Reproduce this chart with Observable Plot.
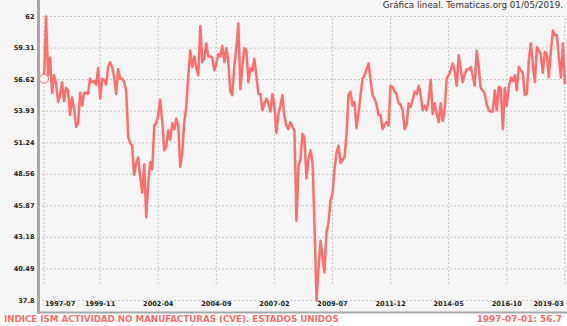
<!DOCTYPE html>
<html>
<head>
<meta charset="utf-8">
<script src="https://cdn.jsdelivr.net/npm/d3@7"></script>
<script src="https://cdn.jsdelivr.net/npm/@observablehq/plot@0.6"></script>
<style>
  html, body { margin: 0; padding: 0; background: #ffffff; }
  #wrap { position: relative; width: 567px; height: 326px; overflow: hidden; background: #ffffff; font-family: "DejaVu Sans", sans-serif; }
  #panel { position: absolute; left: 0; top: 0; width: 567px; height: 313px; background: #f5f5f5; }
  #chart { position: absolute; left: 0; top: 0; }
  #title { position: absolute; right: 4px; top: 0px; font-size: 8.75px; color: #333; white-space: nowrap; }
  #capL { position: absolute; left: 4px; top: 314px; font-size: 8.7px; font-weight: bold; color: #ff6e6e; white-space: nowrap; }
  #capR { position: absolute; right: 5px; top: 314px; font-size: 8.9px; font-weight: bold; color: #ff6e6e; white-space: nowrap; }
</style>
</head>
<body>
<div id="wrap">
  <div id="panel"></div>
  <div id="chart"></div>
  <div id="title"></div>
  <div id="capL"></div>
  <div id="capR"></div>
</div>
<script>
// ---- data ----
const titleText = "Gráfica lineal. Tematicas.org 01/05/2019.";
const seriesName = "INDICE ISM ACTIVIDAD NO MANUFACTURAS (CVE). ESTADOS UNIDOS";
const startMonth = "1997-07";
const values = [
  56.7, 62.0, 57.0, 58.5, 55.5, 57.0, 56.3, 54.7, 55.3, 56.4, 54.8, 55.9,
  55.7, 53.6, 55.1, 54.1, 52.6, 52.9, 55.5, 54.4, 55.5, 55.5, 55.4, 56.7,
  56.4, 56.5, 56.2, 57.6, 55.0, 56.7, 56.6, 56.2, 57.7, 58.1, 57.7, 56.8,
  55.4, 57.5, 56.7, 56.7, 56.4, 55.7, 51.7, 51.2, 51.0, 48.5, 49.5, 50.0,
  48.4, 47.0, 49.4, 44.9, 47.8, 49.6, 49.0, 52.7, 52.9, 53.6, 54.9, 53.1,
  50.6, 50.9, 52.3, 51.5, 52.9, 52.4, 53.3, 52.7, 49.2, 50.3, 52.9, 54.3,
  56.8, 59.1, 57.7, 58.6, 57.6, 57.0, 61.2, 58.1, 58.4, 59.7, 58.6, 58.6,
  58.5, 57.4, 58.0, 58.8, 58.6, 59.5, 58.1, 59.3, 58.1, 55.6, 55.3, 57.8,
  59.3, 61.4, 55.8, 57.8, 59.3, 59.1, 56.4, 57.6, 57.4, 58.4, 57.0, 55.4,
  55.4, 54.0, 54.6, 55.0, 54.6, 53.9, 55.4, 54.3, 52.1, 53.6, 54.4, 55.3,
  53.5, 52.7, 52.4, 53.0, 52.6, 52.3, 44.6, 49.3, 49.8, 52.0, 51.7, 48.2,
  49.8, 50.6, 49.6, 44.2, 37.8, 40.5, 42.9, 41.4, 40.2, 43.6, 44.4, 46.3,
  46.9, 49.0, 50.4, 51.0, 49.5, 49.8, 50.0, 52.1, 55.3, 55.6, 54.4, 54.7,
  52.5, 53.8, 55.3, 56.7, 57.0, 57.5, 58.0, 56.5, 55.3, 55.0, 54.5, 53.6,
  53.6, 52.4, 52.8, 53.0, 52.7, 56.1, 56.0, 55.6, 55.4, 54.6, 54.5, 54.0,
  52.4, 52.8, 54.6, 54.3, 54.9, 55.6, 55.4, 56.1, 55.4, 54.0, 54.4, 54.0,
  54.9, 56.6, 53.7, 54.6, 53.7, 53.0, 54.6, 53.1, 54.0, 56.7, 57.0, 57.4,
  58.0, 57.4, 56.1, 58.7, 57.5, 56.4, 57.1, 57.5, 57.5, 57.7, 57.0, 56.1,
  59.1, 57.7, 55.9, 55.7, 55.4, 54.5, 54.0, 53.9, 53.9, 55.7, 54.0, 56.0,
  55.9, 52.4, 55.9, 54.4, 56.0, 56.8, 56.5, 57.0, 55.7, 57.7, 57.4, 57.2,
  55.3, 55.4, 58.3, 59.7, 57.9, 56.4, 59.4, 59.1, 58.8, 57.2, 59.0, 58.8,
  56.8, 59.0, 60.8, 60.4, 60.4, 58.5, 56.8, 59.7, 56.3
];
const yTicks = [37.8, 40.49, 43.18, 45.87, 48.56, 51.24, 53.93, 56.62, 59.31, 62];
const xTickLabels = ["1997-07", "1999-11", "2002-04", "2004-09", "2007-02", "2009-07", "2011-12", "2014-05", "2016-10", "2019-03"];

// ---- build ----
const parseMonth = d3.utcParse("%Y-%m");
const start = parseMonth(startMonth);
const data = values.map((v, i) => ({ date: d3.utcMonth.offset(start, i), value: v }));
const xTicks = xTickLabels.map(parseMonth);
const first = data[0];

document.getElementById("title").textContent = titleText;
document.getElementById("capL").textContent = seriesName;
document.getElementById("capR").textContent = d3.utcFormat("%Y-%m-%d")(first.date) + ": " + first.value;

const red = "#ff6e6e";
const gridStyle = { stroke: "#c4c4c4", strokeOpacity: 1, strokeWidth: 1, strokeDasharray: "2,2" };
const labelFont = { fontFamily: "DejaVu Sans", fontSize: 6.6, fontWeight: "bold", fill: "#222" };

const chart = Plot.plot({
  width: 567,
  height: 326,
  marginTop: 0,
  marginLeft: 38,
  marginRight: 0,
  marginBottom: 14,
  style: { background: "transparent", fontFamily: "DejaVu Sans", overflow: "visible" },
  x: { type: "utc", domain: [xTicks[0], xTicks[xTicks.length - 1]], range: [43.5, 564.3], axis: null },
  y: { domain: [37.8, 62], range: [300, 16], axis: null, label: null },
  marks: [
    Plot.ruleY(yTicks, { ...gridStyle }),
    Plot.ruleX(xTicks, { y1: 37.8, y2: 62, insetTop: -16, insetBottom: -2, ...gridStyle }),
    Plot.frame({ anchor: "left", stroke: "#a8a8a8", strokeWidth: 3 }),
    Plot.frame({ anchor: "bottom", stroke: "#a8a8a8", strokeWidth: 2 }),
    Plot.axisY(yTicks, { tickSize: 0, tickPadding: 4, label: null, tickFormat: d => String(d), ...labelFont }),
    Plot.text(xTicks.slice(1, -1), { x: d => d, frameAnchor: "bottom", dy: -6.5, text: d => d3.utcFormat("%Y-%m")(d), textAnchor: "middle", ...labelFont }),
    Plot.text([xTicks[0]], { x: d => d, frameAnchor: "bottom", dy: -6.5, text: d => d3.utcFormat("%Y-%m")(d), textAnchor: "start", dx: 1, ...labelFont }),
    Plot.text([xTicks[xTicks.length - 1]], { x: d => d, frameAnchor: "bottom", dy: -6.5, text: d => d3.utcFormat("%Y-%m")(d), textAnchor: "end", dx: -1, ...labelFont }),
    Plot.line(data, { x: "date", y: "value", stroke: red, strokeWidth: 2.5, strokeLinejoin: "round" }),
    Plot.dot([first], { x: "date", y: "value", r: 4.5, stroke: red, strokeWidth: 1, fill: "#fff5f5" })
  ]
});
document.getElementById("chart").appendChild(chart);
</script>
</body>
</html>
